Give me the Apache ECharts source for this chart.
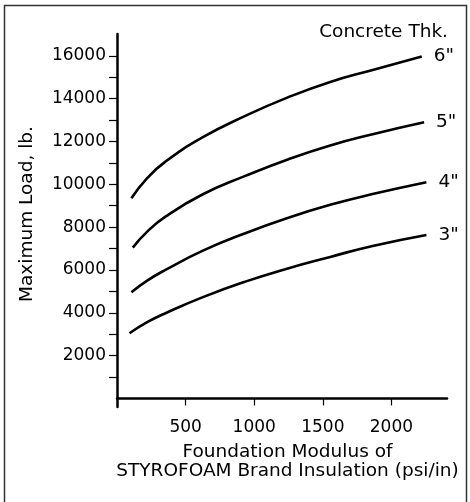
<!DOCTYPE html>
<html>
<head>
<meta charset="utf-8">
<script src="https://cdn.jsdelivr.net/npm/echarts@6/dist/echarts.min.js"></script>
<style>html,body{margin:0;padding:0;background:#fff}#c{width:470px;height:502px}</style>
</head>
<body>
<div id="c"></div>
<script>
// ---- data ----
const seriesNames = ['6"', '5"', '4"', '3"'];
const x6 = [105, 220, 353, 626, 935, 1245, 1554, 1863, 2221];
const y6 = [9350, 10285, 11060, 12200, 13195, 14060, 14780, 15340, 15965];
const x5 = [115, 220, 353, 626, 935, 1245, 1554, 1863, 2238];
const y5 = [7044, 7790, 8491, 9535, 10392, 11163, 11817, 12340, 12900];
const x4 = [105, 220, 353, 626, 935, 1245, 1554, 1863, 2255];
const y4 = [4960, 5502, 6002, 6900, 7716, 8430, 9040, 9545, 10098];
const x3 = [91, 220, 353, 626, 935, 1245, 1554, 1863, 2255];
const y3 = [3045, 3559, 3979, 4730, 5455, 6072, 6609, 7123, 7637];
const xTickLabels = [500, 1000, 1500, 2000];
const yTickLabels = [2000, 4000, 6000, 8000, 10000, 12000, 14000, 16000];
const yMinorTicks = [1000, 2000, 3000, 4000, 5000, 6000, 7000, 8000, 9000, 10000, 11000, 12000, 13000, 14000, 15000, 16000];

const FONT = 'DejaVu Sans';
const FS = 17;
const FN = 18.5;
const chart = echarts.init(document.getElementById('c'), null, {renderer: 'canvas'});
const xsAll = [x6, x5, x4, x3];
const ysAll = [y6, y5, y4, y3];

const series = seriesNames.map((n, i) => ({
  name: n,
  type: 'line',
  smooth: 0.5,
  symbol: 'none',
  data: xsAll[i].map((x, j) => [x, ysAll[i][j]]),
  lineStyle: {color: '#000', width: 2.6},
  endLabel: {
    show: true,
    formatter: n,
    distance: 12,
    color: '#000',
    fontFamily: FONT,
    fontSize: FN
  }
}));

chart.setOption({
  animation: false,
  backgroundColor: '#fff',
  grid: {left: 117, right: 23, top: 34, bottom: 95},
  xAxis: {
    type: 'value',
    min: 0, max: 2405,
    name: 'Foundation Modulus of\nSTYROFOAM Brand Insulation (psi/in)',
    nameLocation: 'middle',
    nameGap: 36,
    nameTextStyle: {color: '#000', fontFamily: FONT, fontSize: FN, lineHeight: 19, padding: [0, 0, 0, 11]},
    axisLine: {show: true, lineStyle: {color: '#000', width: 2.5}},
    axisTick: {show: true, customValues: xTickLabels, length: 7, lineStyle: {color: '#000', width: 1.2}},
    axisLabel: {customValues: xTickLabels, margin: 12, color: '#000', fontFamily: FONT, fontSize: FS, formatter: v => String(v)},
    splitLine: {show: false}
  },
  yAxis: {
    type: 'value',
    min: -400, max: 17020,
    name: 'Maximum Load, lb.',
    nameLocation: 'middle',
    nameGap: 80,
    nameTextStyle: {color: '#000', fontFamily: FONT, fontSize: FN, padding: [0, 0, 0, 13]},
    axisLine: {show: true, lineStyle: {color: '#000', width: 2.5}},
    axisTick: {show: true, customValues: yMinorTicks, length: 8, lineStyle: {color: '#000', width: 1.2}},
    axisLabel: {customValues: yTickLabels, margin: 11, color: '#000', fontFamily: FONT, fontSize: FS, formatter: v => String(v)},
    splitLine: {show: false}
  },
  graphic: [
    {type: 'rect', shape: {x: 4.5, y: 5.5, width: 462, height: 500}, style: {fill: 'none', stroke: '#333', lineWidth: 1.5}, silent: true},
    {type: 'text', right: 22, top: 23, style: {text: 'Concrete Thk.', fill: '#000', font: FN + 'px "DejaVu Sans"'}}
  ],
  series: series
});
</script>
</body>
</html>
